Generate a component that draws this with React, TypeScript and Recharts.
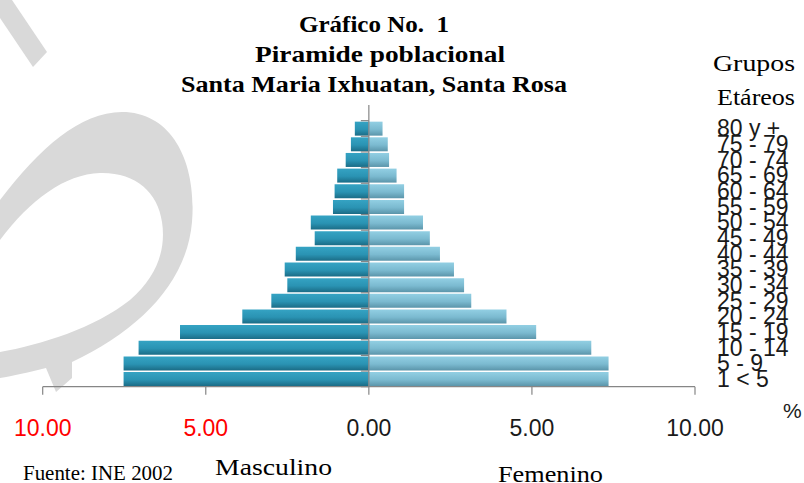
import { BarChart, Bar, XAxis, YAxis, ReferenceLine } from 'recharts';

// age groups bottom -> top; last one is the empty row above "80 y +"
const AGE_GROUPS = [
  '1 < 5', '5 - 9', '10 - 14', '15 - 19', '20 - 24', '25 - 29', '30 - 34', '35 - 39',
  '40 - 44', '45 - 49', '50 - 54', '55 - 59', '60 - 64', '65 - 69', '70 - 74', '75 - 79',
  '80 y +', '',
];
const MASCULINO = [7.52, 7.52, 7.06, 5.79, 3.88, 2.99, 2.5, 2.58, 2.24, 1.66, 1.78, 1.1, 1.05, 0.97, 0.71, 0.55, 0.43];
const FEMENINO = [7.35, 7.35, 6.82, 5.13, 4.22, 3.14, 2.92, 2.61, 2.18, 1.87, 1.66, 1.08, 1.08, 0.85, 0.62, 0.58, 0.42];
const X_TICKS = [-10, -5, 0, 5, 10];

const data = AGE_GROUPS.map((age, i) => ({
  age,
  male: MASCULINO[i] != null ? -MASCULINO[i] : null,
  female: FEMENINO[i] ?? null,
}));

const SANS = '"Liberation Sans", Arial, sans-serif';
const SERIF = '"Liberation Serif", "Times New Roman", serif';
const AXIS = '#868686';

function XTick({ x, y, payload }: any) {
  const v = payload.value as number;
  return (
    <text x={x} y={y + 39} textAnchor="middle" fontFamily={SANS} fontSize={23}
      fill={v < 0 ? '#ff0000' : '#1a1a1a'}>
      {Math.abs(v).toFixed(2)}
    </text>
  );
}

function AgeTick({ x, y, payload }: any) {
  return (
    <text x={x + 22} y={y + 8} textAnchor="start" fontFamily={SANS} fontSize={23} fill="#1a1a1a">
      {payload.value}
    </text>
  );
}

// centre category axis: vertical line with small ticks to the left at each band edge
function CenterAxis(props: any) {
  const { x1, y1, y2 } = props;
  const n = AGE_GROUPS.length;
  const band = (y2 - y1) / n;
  return (
    <g>
      <line x1={x1} y1={y1} x2={x1} y2={y2} stroke={AXIS} strokeWidth={1.2} />
      {AGE_GROUPS.map((_, i) => (
        <line key={i} x1={x1 - 8} x2={x1} y1={y1 + i * band} y2={y1 + i * band} stroke={AXIS} strokeWidth={1.2} />
      ))}
    </g>
  );
}

function Watermark() {
  return (
    <svg width={804} height={483} style={{ position: 'absolute', left: 0, top: 0 }}>
      <path d="M0,0 L12,0 L47,52 L33,67 L0,18 Z" fill="#d9d9d9" />
      <path
        d="M0,200 C40,148 80,112 122,112 C172,112 197,162 192,222 C187,282 140,330 72,362 L72,378 L56,392 L46,368 C30,372 12,376 0,378 L0,352 C40,345 95,328 130,300 C158,276 166,248 162,222 C158,192 135,172 100,173 C65,174 30,200 0,240 Z"
        fill="#d9d9d9"
      />
    </svg>
  );
}

function Labels() {
  return (
    <svg width={804} height={483} style={{ position: 'absolute', left: 0, top: 0, pointerEvents: 'none' }}>
      <g fontFamily={SERIF} fontWeight="bold" fontSize={24} fill="#000" textAnchor="middle">
        <text x={374} y={32} textLength={150} lengthAdjust="spacingAndGlyphs" style={{ whiteSpace: 'pre' }}>Gráfico No.  1</text>
        <text x={380} y={62} textLength={250} lengthAdjust="spacingAndGlyphs">Piramide poblacional</text>
        <text x={374} y={92} textLength={386} lengthAdjust="spacingAndGlyphs">Santa Maria Ixhuatan, Santa Rosa</text>
      </g>
      <g fontFamily={SERIF} fontSize={24} fill="#000">
        <text x={713} y={71} textLength={82} lengthAdjust="spacingAndGlyphs">Grupos</text>
        <text x={717} y={105} textLength={78} lengthAdjust="spacingAndGlyphs">Etáreos</text>
        <text x={215} y={475} textLength={117} lengthAdjust="spacingAndGlyphs">Masculino</text>
        <text x={498} y={482} textLength={105} lengthAdjust="spacingAndGlyphs">Femenino</text>
        <text x={23} y={480} fontSize={21} textLength={150} lengthAdjust="spacingAndGlyphs">Fuente: INE 2002</text>
      </g>
      <text x={783} y={418} fontFamily={SANS} fontSize={21} fill="#1a1a1a">%</text>
    </svg>
  );
}

export default function App() {
  return (
    <div style={{ position: 'absolute', left: 0, top: 0, width: 804, height: 483, background: '#fff' }}>
      <Watermark />
      <div style={{ position: 'absolute', left: 0, top: 0 }}>
        <BarChart
          width={804}
          height={483}
          data={data}
          layout="vertical"
          stackOffset="sign"
          barCategoryGap={1}
          margin={{ top: 105, right: 9, bottom: 56.3, left: 42.7 }}
        >
          <defs>
            <linearGradient id="gMale" x1="0" y1="0" x2="0" y2="1">
              <stop offset="0%" stopColor="#35a3c3" />
              <stop offset="55%" stopColor="#2a93b3" />
              <stop offset="100%" stopColor="#1b6c86" />
            </linearGradient>
            <linearGradient id="gFemale" x1="0" y1="0" x2="0" y2="1">
              <stop offset="0%" stopColor="#92cfe3" />
              <stop offset="55%" stopColor="#7bbad0" />
              <stop offset="100%" stopColor="#5b95aa" />
            </linearGradient>
          </defs>
          <XAxis
            type="number"
            domain={[-10, 10]}
            ticks={X_TICKS}
            interval={0}
            height={40}
            tickSize={8}
            axisLine={{ stroke: AXIS, strokeWidth: 1.2 }}
            tickLine={{ stroke: AXIS, strokeWidth: 1.2 }}
            tick={<XTick />}
          />
          <YAxis
            type="category"
            dataKey="age"
            orientation="right"
            reversed
            width={100}
            interval={0}
            axisLine={false}
            tickLine={false}
            tickSize={0}
            tickMargin={0}
            tick={<AgeTick />}
          />
          <Bar dataKey="male" stackId="s" fill="url(#gMale)" isAnimationActive={false} />
          <Bar dataKey="female" stackId="s" fill="url(#gFemale)" isAnimationActive={false} />
          <ReferenceLine x={0} shape={CenterAxis} />
        </BarChart>
      </div>
      <Labels />
    </div>
  );
}
